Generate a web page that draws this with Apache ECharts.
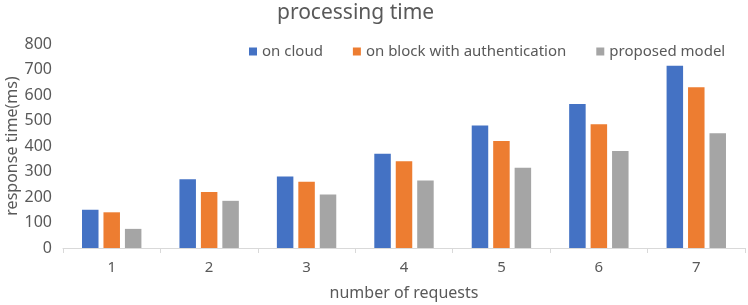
<!DOCTYPE html>
<html lang="en">
<head>
    <meta charset="UTF-8">
    <title>processing time</title>
    <script src="https://cdn.jsdelivr.net/npm/echarts@6/dist/echarts.min.js"></script>
    <style>
        html, body { margin: 0; padding: 0; background: #fff; }
        #chart { width: 748px; height: 305px; }
    </style>
</head>
<body>
    <div id="chart"></div>
    <script>
        var categories = ['1', '2', '3', '4', '5', '6', '7'];
        var onCloud = [150, 270, 280, 370, 480, 565, 715];
        var onBlock = [140, 220, 260, 340, 420, 485, 630];
        var proposed = [75, 185, 210, 265, 315, 380, 450];

        var textColor = '#595959';
        var font = 'Noto Sans';

        var myChart = echarts.init(document.getElementById('chart'));
        myChart.setOption({
            animation: false,
            color: ['#4472C4', '#ED7D31', '#A5A5A5'],
            title: {
                text: 'processing time',
                left: 272,
                top: -2,
                textStyle: { color: textColor, fontSize: 21, fontWeight: 'normal', fontFamily: font }
            },
            legend: {
                left: 244,
                top: 39,
                itemWidth: 8,
                itemHeight: 8,
                itemGap: 30,
                icon: 'rect',
                textStyle: { color: textColor, fontSize: 15, fontFamily: font }
            },
            grid: { left: 63, right: 3, top: 44, bottom: 57, outerBoundsMode: 'none' },
            xAxis: {
                type: 'category',
                data: categories,
                name: 'number of requests',
                nameLocation: 'middle',
                nameGap: 37,
                nameMoveOverlap: false,
                nameTextStyle: { color: textColor, fontSize: 16, fontFamily: font },
                axisLine: { lineStyle: { color: '#d9d9d9' } },
                axisTick: { show: true, length: 5, lineStyle: { color: '#d9d9d9' } },
                axisLabel: { color: textColor, fontSize: 15, fontFamily: font, margin: 12 }
            },
            yAxis: {
                type: 'value',
                min: 0,
                max: 800,
                interval: 100,
                name: 'response time(ms)',
                nameLocation: 'middle',
                nameGap: 43,
                nameMoveOverlap: false,
                nameTextStyle: { color: textColor, fontSize: 16, fontFamily: font },
                axisLine: { show: false },
                axisTick: { show: false },
                splitLine: { show: false },
                axisLabel: { color: textColor, fontSize: 16, fontFamily: font, margin: 11 }
            },
            series: [
                { name: 'on cloud', type: 'bar', data: onCloud, barWidth: 16.5, barGap: '30%' },
                { name: 'on block with authentication', type: 'bar', data: onBlock, barWidth: 16.5, barGap: '30%' },
                { name: 'proposed model', type: 'bar', data: proposed, barWidth: 16.5, barGap: '30%' }
            ]
        });
    </script>
</body>
</html>
